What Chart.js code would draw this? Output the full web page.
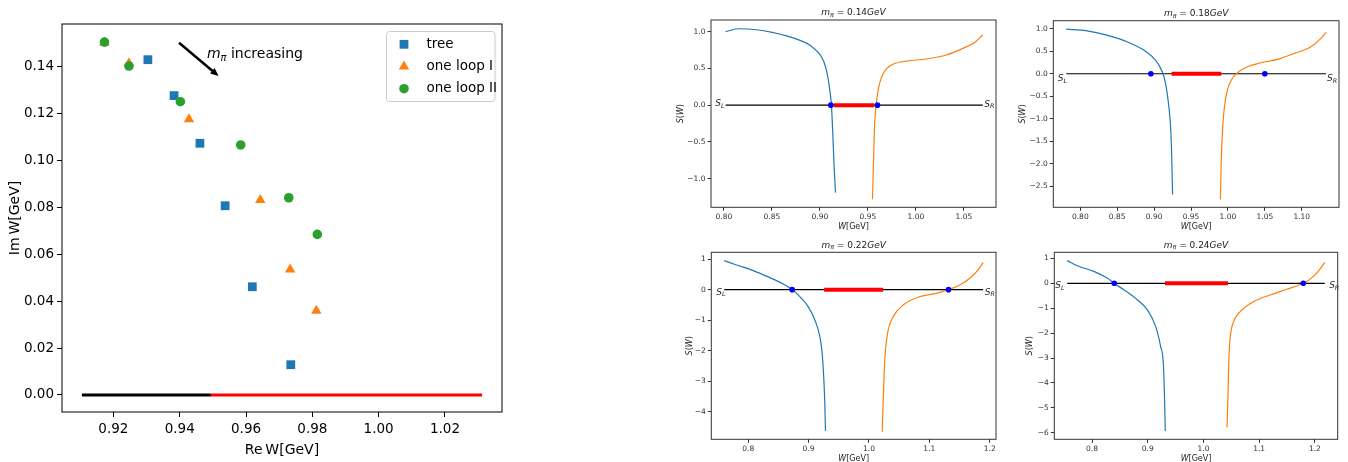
<!DOCTYPE html>
<html lang="en">
<head>
  <meta charset="UTF-8">
  <title>Pole trajectories and S(W)</title>
  <script src="https://cdn.jsdelivr.net/npm/chart.js"></script>
  <style>
    body { margin: 0; background: #fff; }
    #fig { position: relative; width: 1348px; height: 462px; }
    #fig canvas { position: absolute; }
  </style>
</head>
<body>
  <div id="fig">
    <canvas id="poles" width="620" height="462" style="left:0;top:0"></canvas>
    <canvas id="m014" width="340" height="230" style="left:660px;top:0"></canvas>
    <canvas id="m018" width="348" height="230" style="left:1000px;top:0"></canvas>
    <canvas id="m022" width="340" height="232" style="left:660px;top:230px"></canvas>
    <canvas id="m024" width="348" height="232" style="left:1000px;top:230px"></canvas>
  </div>

  <script>
    // ---- pole positions (Re W, Im W) in GeV, one point per pion mass ----
    const reTree  = [0.9304, 0.9383, 0.9461, 0.9537, 0.9619, 0.9735];
    const imTree  = [0.1428, 0.1275, 0.1072, 0.0806, 0.0461, 0.0129];
    const reLoop1 = [0.9173, 0.9247, 0.9428, 0.9643, 0.9733, 0.9812];
    const imLoop1 = [0.1500, 0.1413, 0.1174, 0.0830, 0.0535, 0.0359];
    const reLoop2 = [0.9173, 0.9247, 0.9402, 0.9584, 0.9729, 0.9815];
    const imLoop2 = [0.1503, 0.1401, 0.1249, 0.1065, 0.0840, 0.0684];
    // real axis below / above threshold
    const realBelow = [0.9105, 0.9494];
    const realAbove = [0.9494, 1.0312];
    const reTicks = [0.92, 0.94, 0.96, 0.98, 1.00, 1.02];
    const imTicks = [0, 0.02, 0.04, 0.06, 0.08, 0.10, 0.12, 0.14];

    // ---- S(W) for each pion mass: left branch, right branch ----
    const wL014 = [0.8017, 0.8145, 0.8317, 0.849, 0.8662, 0.88, 0.8903, 0.899, 0.9041, 0.9076, 0.9103, 0.912, 0.9134, 0.9148, 0.9162];
    const sL014 = [1.00, 1.04, 1.03, 0.995, 0.94, 0.878, 0.81, 0.705, 0.59, 0.43, 0.204, 0.0, -0.385, -0.837, -1.19];
    const wR014 = [0.9548, 0.9559, 0.9569, 0.9586, 0.961, 0.9645, 0.9697, 0.9766, 0.9903, 1.011, 1.0317, 1.049, 1.061, 1.0697];
    const sR014 = [-1.28, -0.746, -0.29, 0.0, 0.229, 0.388, 0.50, 0.56, 0.60, 0.628, 0.683, 0.773, 0.85, 0.955];
    const span014 = [0.8017, 1.0697], cut014 = [0.9145, 0.9566], roots014 = [0.9114, 0.96];

    const wL018 = [0.781, 0.809, 0.836, 0.8634, 0.886, 0.9019, 0.911, 0.9155, 0.920, 0.9223, 0.9236, 0.925];
    const sL018 = [0.99, 0.954, 0.858, 0.71, 0.525, 0.303, 0.044, -0.214, -0.732, -1.176, -1.69, -2.68];
    const wR018 = [0.9898, 0.991, 0.9925, 0.9948, 0.9993, 1.006, 1.0129, 1.0264, 1.0446, 1.0672, 1.0899, 1.1125, 1.126, 1.1329];
    const sR018 = [-2.79, -1.916, -1.324, -0.806, -0.362, -0.104, 0.022, 0.155, 0.244, 0.318, 0.451, 0.599, 0.784, 0.917];
    const span018 = [0.781, 1.1329], cut018 = [0.9236, 0.9911], roots018 = [0.8956, 1.05];

    const wL022 = [0.7603, 0.7807, 0.8083, 0.8359, 0.858, 0.8728, 0.8855, 0.8993, 0.9104, 0.9187, 0.9225, 0.9253, 0.9269, 0.928];
    const sL022 = [0.95, 0.81, 0.624, 0.394, 0.186, 0, -0.23, -0.558, -0.996, -1.543, -2.09, -2.965, -3.73, -4.64];
    const wR022 = [1.0219, 1.0235, 1.0252, 1.0274, 1.0318, 1.04, 1.0566, 1.0842, 1.1118, 1.1317, 1.1504, 1.167, 1.1808, 1.189];
    const sR022 = [-4.66, -3.73, -2.746, -1.98, -1.324, -0.886, -0.503, -0.23, -0.12, 0, 0.153, 0.372, 0.646, 0.886];
    const span022 = [0.7603, 1.189], cut022 = [0.9258, 1.0235], roots022 = [0.8728, 1.1317];

    const wL024 = [0.7554, 0.7744, 0.8042, 0.828, 0.8399, 0.8577, 0.8815, 0.8994, 0.9143, 0.9232, 0.928, 0.9298, 0.9315];
    const sL024 = [0.91, 0.696, 0.469, 0.2, 0, -0.268, -0.669, -1.07, -1.74, -2.54, -3.21, -4.28, -5.93];
    const wR024 = [1.0423, 1.044, 1.0458, 1.0482, 1.0542, 1.066, 1.0899, 1.1196, 1.1494, 1.1792, 1.197, 1.2089, 1.2179];
    const sR024 = [-5.78, -4.55, -2.945, -2.14, -1.54, -1.14, -0.736, -0.469, -0.241, 0, 0.268, 0.562, 0.843];
    const span024 = [0.7554, 1.2179], cut024 = [0.931, 1.044], roots024 = [0.8399, 1.1792];

    const xt014 = [0.80, 0.85, 0.90, 0.95, 1.00, 1.05];
    const yt014 = [-1, -0.5, 0, 0.5, 1];
    const xt018 = [0.80, 0.85, 0.90, 0.95, 1.00, 1.05, 1.10];
    const yt018 = [-2.5, -2, -1.5, -1, -0.5, 0, 0.5, 1];
    const xt022 = [0.8, 0.9, 1.0, 1.1, 1.2];
    const yt022 = [-4, -3, -2, -1, 0, 1];
    const xt024 = [0.8, 0.9, 1.0, 1.1, 1.2];
    const yt024 = [-6, -5, -4, -3, -2, -1, 0, 1];

    const FAM = "'DejaVu Sans', Verdana, sans-serif";
    const BLUE = '#1f77b4', ORANGE = '#ff7f0e', GREEN = '#2ca02c';

    const pts = (xs, ys) => xs.map((x, i) => ({ x, y: ys[i] }));
    const minus = s => s.replace('-', '\u2212');

    // draw a run of text pieces; style '' upright, 'i' italic, 's' subscript
    function richText(ctx, parts, x, y, size, align) {
      const segs = parts.map(([t, st]) => {
        const sub = st.includes('s');
        const font = (st.includes('i') ? 'italic ' : '') + (sub ? size * 0.7 : size) + 'px ' + FAM;
        ctx.font = font;
        return { t, font, w: ctx.measureText(t).width, dy: sub ? size * 0.28 : 0 };
      });
      const total = segs.reduce((a, s) => a + s.w, 0);
      let cx = align === 'center' ? x - total / 2 : align === 'right' ? x - total : x;
      ctx.textAlign = 'left';
      ctx.textBaseline = 'middle';
      segs.forEach(s => { ctx.font = s.font; ctx.fillText(s.t, cx, y + s.dy); cx += s.w; });
    }

    // same marker shapes Chart.js uses for rect / triangle / circle
    function marker(ctx, style, r, x, y) {
      ctx.beginPath();
      if (style === 'rect') {
        const h = Math.SQRT1_2 * r;
        ctx.rect(x - h, y - h, 2 * h, 2 * h);
      } else if (style === 'triangle') {
        let a = 0;
        ctx.moveTo(x + Math.sin(a) * r, y - Math.cos(a) * r);
        a += 2 * Math.PI / 3;
        ctx.lineTo(x + Math.sin(a) * r, y - Math.cos(a) * r);
        a += 2 * Math.PI / 3;
        ctx.lineTo(x + Math.sin(a) * r, y - Math.cos(a) * r);
        ctx.closePath();
      } else {
        ctx.arc(x, y, r, 0, 2 * Math.PI);
      }
      ctx.fill();
    }

    function axis(ticks, range, digits, o) {
      return {
        type: 'linear', min: range[0], max: range[1],
        afterBuildTicks: s => { s.ticks = ticks.map(v => ({ value: v })); },
        afterFit: o.fit,
        border: { display: false },
        grid: { drawOnChartArea: false, drawTicks: true, tickLength: o.tick, tickColor: o.color, tickWidth: 1 },
        ticks: {
          autoSkip: false, maxRotation: 0, padding: o.pad, color: o.color,
          font: { family: FAM, size: o.size },
          callback: v => minus(Number(v).toFixed(digits))
        }
      };
    }

    // ---------------- left panel: pole trajectories ----------------
    const poleDecor = {
      id: 'poleDecor',
      afterDraw(chart) {
        const { ctx, chartArea: a, scales: { x, y } } = chart;
        ctx.save();
        ctx.strokeStyle = '#000';
        ctx.lineWidth = 1;
        ctx.strokeRect(a.left, a.top, a.right - a.left, a.bottom - a.top);

        // arrow pointing along increasing pion mass
        const x0 = x.getPixelForValue(0.9398), y0 = y.getPixelForValue(0.150);
        const x1 = x.getPixelForValue(0.9517), y1 = y.getPixelForValue(0.1359);
        const ang = Math.atan2(y1 - y0, x1 - x0);
        ctx.lineWidth = 2.5;
        ctx.beginPath();
        ctx.moveTo(x0, y0);
        ctx.lineTo(x1 - 5 * Math.cos(ang), y1 - 5 * Math.sin(ang));
        ctx.stroke();
        ctx.fillStyle = '#000';
        ctx.beginPath();
        ctx.moveTo(x1, y1);
        ctx.lineTo(x1 - 8 * Math.cos(ang) + 3.5 * Math.sin(ang), y1 - 8 * Math.sin(ang) - 3.5 * Math.cos(ang));
        ctx.lineTo(x1 - 8 * Math.cos(ang) - 3.5 * Math.sin(ang), y1 - 8 * Math.sin(ang) + 3.5 * Math.cos(ang));
        ctx.closePath();
        ctx.fill();
        richText(ctx, [['m', 'i'], ['\u03c0', 'is'], [' increasing', '']],
          x.getPixelForValue(0.9482), y.getPixelForValue(0.1452), 14, 'left');

        // legend box, upper right
        ctx.lineWidth = 1;
        ctx.strokeStyle = '#cccccc';
        ctx.fillStyle = 'rgba(255,255,255,0.8)';
        ctx.beginPath();
        ctx.roundRect(386.5, 31.5, 108.5, 70, 3);
        ctx.fill();
        ctx.stroke();
        chart.data.datasets.slice(0, 3).forEach((ds, i) => {
          const ly = 44.3 + i * 22.2;
          ctx.fillStyle = ds.backgroundColor;
          marker(ctx, ds.pointStyle, ds.pointRadius, 404, ly);
          ctx.fillStyle = '#000';
          richText(ctx, [[ds.label, '']], 426.5, ly, 13.5, 'left');
        });

        // axis titles
        ctx.fillStyle = '#000';
        richText(ctx, [['Re\u2009W[GeV]', '']], (a.left + a.right) / 2, 450.5, 14, 'center');
        ctx.translate(15, (a.top + a.bottom) / 2);
        ctx.rotate(-Math.PI / 2);
        richText(ctx, [['Im\u2009W[GeV]', '']], 0, 0, 14, 'center');
        ctx.restore();
      }
    };

    new Chart(document.getElementById('poles'), {
      type: 'scatter',
      data: {
        datasets: [
          { label: 'tree', data: pts(reTree, imTree), pointStyle: 'rect', pointRadius: 6.2,
            backgroundColor: BLUE, borderWidth: 0, order: 3 },
          { label: 'one loop I', data: pts(reLoop1, imLoop1), pointStyle: 'triangle', pointRadius: 6,
            backgroundColor: ORANGE, borderWidth: 0, order: 2 },
          { label: 'one loop II', data: pts(reLoop2, imLoop2), pointStyle: 'circle', pointRadius: 4.8,
            backgroundColor: GREEN, borderWidth: 0, order: 1 },
          { data: pts(realBelow, [0, 0]), showLine: true, pointRadius: 0, borderColor: '#000', borderWidth: 3, order: 4 },
          { data: pts(realAbove, [0, 0]), showLine: true, pointRadius: 0, borderColor: '#ff0000', borderWidth: 3, order: 4 }
        ]
      },
      options: {
        responsive: false,
        animation: false,
        devicePixelRatio: 1,
        events: [],
        layout: { padding: { top: 24, right: 118, left: 0, bottom: 0 } },
        plugins: { legend: { display: false }, tooltip: { enabled: false } },
        scales: {
          x: axis(reTicks, [0.9045, 1.0372], 2, { fit: s => { s.height = 50; }, tick: 5, pad: 4, size: 13.5, color: '#000' }),
          y: axis(imTicks, [-0.00724, 0.158], 2, { fit: s => { s.width = 62; }, tick: 5, pad: 3, size: 13.5, color: '#000' })
        }
      },
      plugins: [poleDecor]
    });

    // ---------------- right panels: S(W) for four pion masses ----------------
    const panels = [
      { id: 'm014', mpi: '0.14', wL: wL014, sL: sL014, wR: wR014, sR: sR014, span: span014, cut: cut014, roots: roots014,
        xt: xt014, yt: yt014, xd: 2, yd: 1, xr: [0.7865, 1.0835], yr: [-1.39, 1.159],
        yw: 51, top: 20, right: 4, ylab: 21, lab: [-1, -1.5, 1.5, -1] },
      { id: 'm018', mpi: '0.18', wL: wL018, sL: sL018, wR: wR018, sR: sR018, span: span018, cut: cut018, roots: roots018,
        xt: xt018, yt: yt018, xd: 2, yd: 1, xr: [0.7634, 1.1505], yr: [-2.966, 1.178],
        yw: 53.3, top: 20.7, right: 9, ylab: 23, lab: [0.7, 4.7, 1, 4.7] },
      { id: 'm022', mpi: '0.22', wL: wL022, sL: sL022, wR: wR022, sR: sR022, span: span022, cut: cut022, roots: roots022,
        xt: xt022, yt: yt022, xd: 1, yd: 0, xr: [0.7389, 1.2104], yr: [-4.91, 1.225],
        yw: 51.3, top: 22.3, right: 4, ylab: 30, lab: [1.3, 2.7, 1.7, 2.7] },
      { id: 'm024', mpi: '0.24', wL: wL024, sL: sL024, wR: wR024, sR: sR024, span: span024, cut: cut024, roots: roots024,
        xt: xt024, yt: yt024, xd: 1, yd: 0, xr: [0.7323, 1.241], yr: [-6.265, 1.245],
        yw: 54.3, top: 22.3, right: 10.3, ylab: 30, lab: [-2.7, 2.7, 4.3, 2.7] }
    ];

    function panelDecor(p) {
      return {
        id: 'panelDecor',
        afterDraw(chart) {
          const { ctx, chartArea: a, scales: { x, y } } = chart;
          const cx = (a.left + a.right) / 2;
          ctx.save();
          ctx.strokeStyle = '#333';
          ctx.lineWidth = 1;
          ctx.strokeRect(a.left, a.top, a.right - a.left, a.bottom - a.top);
          ctx.fillStyle = '#222';
          richText(ctx, [['m', 'i'], ['\u03c0', 'is'], [' = ' + p.mpi, ''], ['GeV', 'i']], cx, a.top - 7, 9, 'center');
          richText(ctx, [['W', 'i'], ['[GeV]', '']], cx, a.bottom + 19.5, 8, 'center');
          const y0 = y.getPixelForValue(0);
          richText(ctx, [['S', 'i'], ['L', 'is']], x.getPixelForValue(p.span[0]) + p.lab[0], y0 + p.lab[1], 9, 'right');
          richText(ctx, [['S', 'i'], ['R', 'is']], x.getPixelForValue(p.span[1]) + p.lab[2], y0 + p.lab[3], 9, 'left');
          ctx.translate(p.ylab, (a.top + a.bottom) / 2);
          ctx.rotate(-Math.PI / 2);
          richText(ctx, [['S', 'i'], ['(', ''], ['W', 'i'], [')', '']], 0, 0, 8, 'center');
          ctx.restore();
        }
      };
    }

    panels.forEach(p => {
      const line = (data, color, width, order, smooth) =>
        ({ data, showLine: true, pointRadius: 0, borderColor: color, borderWidth: width, order,
           cubicInterpolationMode: smooth ? 'monotone' : 'default', tension: smooth ? 0.4 : 0 });
      new Chart(document.getElementById(p.id), {
        type: 'scatter',
        data: {
          datasets: [
            line(pts(p.span, [0, 0]), '#000', 1.2, 4, false),
            line(pts(p.cut, [0, 0]), '#ff0000', 4, 3, false),
            line(pts(p.wL, p.sL), BLUE, 1.2, 2, true),
            line(pts(p.wR, p.sR), ORANGE, 1.2, 2, true),
            { data: pts(p.roots, [0, 0]), pointRadius: 2.8, backgroundColor: '#0000ff', borderWidth: 0, order: 1 }
          ]
        },
        options: {
          responsive: false,
          animation: false,
          devicePixelRatio: 1,
          events: [],
          layout: { padding: { top: p.top, right: p.right, left: 0, bottom: 0 } },
          plugins: { legend: { display: false }, tooltip: { enabled: false } },
          scales: {
            x: axis(p.xt, p.xr, p.xd, { fit: s => { s.height = 22.7; }, tick: 3.5, pad: 2, size: 7.5, color: '#333' }),
            y: axis(p.yt, p.yr, p.yd, { fit: s => { s.width = p.yw; }, tick: 3.5, pad: 2, size: 7.5, color: '#333' })
          }
        },
        plugins: [panelDecor(p)]
      });
    });
  </script>
</body>
</html>
